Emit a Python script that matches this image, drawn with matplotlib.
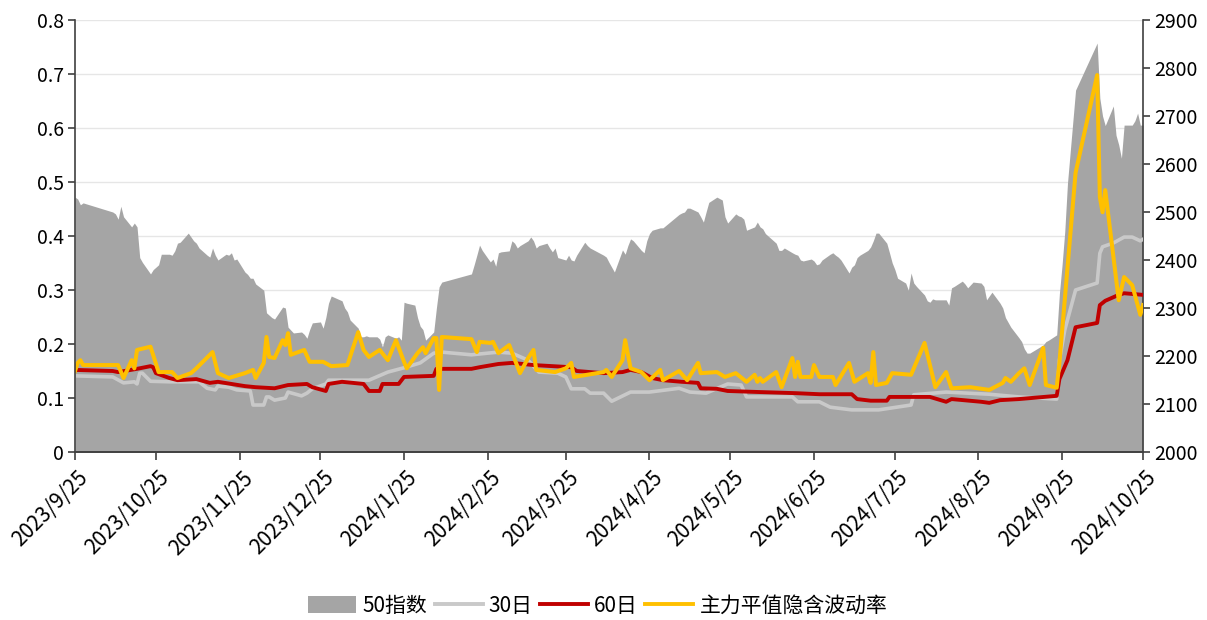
import matplotlib
matplotlib.use('Agg')
import matplotlib.pyplot as plt
import matplotlib.transforms as mtransforms
from matplotlib.patches import Patch
from matplotlib.lines import Line2D
import numpy as np
import pandas as pd

plt.rcParams['font.family'] = ['Noto Sans CJK SC', 'DejaVu Sans']

# 50指数 (right axis)
idx_dates = [
    '2023-09-25', '2023-09-26', '2023-09-27', '2023-09-28', '2023-10-09', '2023-10-10', '2023-10-11',
    '2023-10-12', '2023-10-13', '2023-10-16', '2023-10-17', '2023-10-18', '2023-10-19', '2023-10-20',
    '2023-10-23', '2023-10-24', '2023-10-25', '2023-10-26', '2023-10-27', '2023-10-30', '2023-10-31',
    '2023-11-01', '2023-11-02', '2023-11-03', '2023-11-06', '2023-11-07', '2023-11-08', '2023-11-09',
    '2023-11-10', '2023-11-13', '2023-11-14', '2023-11-15', '2023-11-16', '2023-11-17', '2023-11-20',
    '2023-11-21', '2023-11-22', '2023-11-23', '2023-11-24', '2023-11-27', '2023-11-28', '2023-11-29',
    '2023-11-30', '2023-12-01', '2023-12-04', '2023-12-05', '2023-12-06', '2023-12-07', '2023-12-08',
    '2023-12-11', '2023-12-12', '2023-12-13', '2023-12-14', '2023-12-15', '2023-12-18', '2023-12-19',
    '2023-12-20', '2023-12-21', '2023-12-22', '2023-12-25', '2023-12-26', '2023-12-27', '2023-12-28',
    '2023-12-29', '2024-01-02', '2024-01-03', '2024-01-04', '2024-01-05', '2024-01-08', '2024-01-09',
    '2024-01-10', '2024-01-11', '2024-01-12', '2024-01-15', '2024-01-16', '2024-01-17', '2024-01-18',
    '2024-01-19', '2024-01-22', '2024-01-23', '2024-01-24', '2024-01-25', '2024-01-26', '2024-01-29',
    '2024-01-30', '2024-01-31', '2024-02-01', '2024-02-02', '2024-02-05', '2024-02-06', '2024-02-07',
    '2024-02-08', '2024-02-19', '2024-02-20', '2024-02-21', '2024-02-22', '2024-02-23', '2024-02-26',
    '2024-02-27', '2024-02-28', '2024-02-29', '2024-03-01', '2024-03-04', '2024-03-05', '2024-03-06',
    '2024-03-07', '2024-03-08', '2024-03-11', '2024-03-12', '2024-03-13', '2024-03-14', '2024-03-15',
    '2024-03-18', '2024-03-19', '2024-03-20', '2024-03-21', '2024-03-22', '2024-03-25', '2024-03-26',
    '2024-03-27', '2024-03-28', '2024-03-29', '2024-04-01', '2024-04-02', '2024-04-03', '2024-04-08',
    '2024-04-09', '2024-04-10', '2024-04-11', '2024-04-12', '2024-04-15', '2024-04-16', '2024-04-17',
    '2024-04-18', '2024-04-19', '2024-04-22', '2024-04-23', '2024-04-24', '2024-04-25', '2024-04-26',
    '2024-04-29', '2024-04-30', '2024-05-06', '2024-05-07', '2024-05-08', '2024-05-09', '2024-05-10',
    '2024-05-13', '2024-05-14', '2024-05-15', '2024-05-16', '2024-05-17', '2024-05-20', '2024-05-21',
    '2024-05-22', '2024-05-23', '2024-05-24', '2024-05-27', '2024-05-28', '2024-05-29', '2024-05-30',
    '2024-05-31', '2024-06-03', '2024-06-04', '2024-06-05', '2024-06-06', '2024-06-07', '2024-06-11',
    '2024-06-12', '2024-06-13', '2024-06-14', '2024-06-17', '2024-06-18', '2024-06-19', '2024-06-20',
    '2024-06-21', '2024-06-24', '2024-06-25', '2024-06-26', '2024-06-27', '2024-06-28', '2024-07-01',
    '2024-07-02', '2024-07-03', '2024-07-04', '2024-07-05', '2024-07-08', '2024-07-09', '2024-07-10',
    '2024-07-11', '2024-07-12', '2024-07-15', '2024-07-16', '2024-07-17', '2024-07-18', '2024-07-19',
    '2024-07-22', '2024-07-23', '2024-07-24', '2024-07-25', '2024-07-26', '2024-07-29', '2024-07-30',
    '2024-07-31', '2024-08-01', '2024-08-02', '2024-08-05', '2024-08-06', '2024-08-07', '2024-08-08',
    '2024-08-09', '2024-08-12', '2024-08-13', '2024-08-14', '2024-08-15', '2024-08-16', '2024-08-19',
    '2024-08-20', '2024-08-21', '2024-08-22', '2024-08-23', '2024-08-26', '2024-08-27', '2024-08-28',
    '2024-08-29', '2024-08-30', '2024-09-02', '2024-09-03', '2024-09-04', '2024-09-05', '2024-09-06',
    '2024-09-09', '2024-09-10', '2024-09-11', '2024-09-12', '2024-09-13', '2024-09-18', '2024-09-19',
    '2024-09-20', '2024-09-23', '2024-09-24', '2024-09-25', '2024-09-26', '2024-09-27', '2024-09-30',
    '2024-10-08', '2024-10-09', '2024-10-10', '2024-10-11', '2024-10-14', '2024-10-15', '2024-10-16',
    '2024-10-17', '2024-10-18', '2024-10-21', '2024-10-22', '2024-10-23', '2024-10-24', '2024-10-25',
]
idx_vals = [
    2531, 2527, 2515, 2519, 2500, 2496, 2485,
    2512, 2490, 2469, 2477, 2469, 2405, 2395,
    2371, 2380, 2385, 2390, 2412, 2412, 2410,
    2419, 2435, 2437, 2456, 2448, 2440, 2435,
    2425, 2410, 2406, 2425, 2410, 2400, 2412,
    2410, 2415, 2400, 2402, 2375, 2370, 2362,
    2362, 2350, 2337, 2290, 2285, 2280, 2277,
    2302, 2300, 2260, 2254, 2248, 2250, 2245,
    2237, 2255, 2269, 2271, 2258, 2280, 2310,
    2325, 2315, 2300, 2292, 2275, 2258, 2240,
    2240, 2242, 2240, 2240, 2235, 2219, 2240,
    2244, 2237, 2240, 2233, 2312, 2310, 2306,
    2280, 2262, 2255, 2233, 2250, 2300, 2344,
    2354, 2371, 2390, 2410, 2431, 2420, 2396,
    2402, 2387, 2415, 2417, 2419, 2440, 2435,
    2425, 2430, 2440, 2448, 2440, 2425, 2430,
    2435, 2425, 2417, 2425, 2405, 2400, 2410,
    2400, 2398, 2410, 2437, 2430, 2425, 2410,
    2406, 2395, 2385, 2375, 2421, 2412, 2430,
    2444, 2440, 2420, 2415, 2440, 2455, 2462,
    2467, 2467, 2495, 2498, 2500, 2508, 2508,
    2500, 2490, 2479, 2500, 2520, 2531, 2528,
    2525, 2490, 2477, 2496, 2492, 2490, 2485,
    2462, 2469, 2479, 2469, 2465, 2455, 2435,
    2420, 2420, 2425, 2415, 2412, 2410, 2400,
    2398, 2402, 2398, 2390, 2392, 2400, 2412,
    2415, 2410, 2406, 2400, 2373, 2385, 2390,
    2405, 2410, 2420, 2427, 2440, 2456, 2456,
    2435, 2415, 2394, 2380, 2362, 2352, 2337,
    2373, 2352, 2345, 2327, 2315, 2312, 2319,
    2317, 2317, 2317, 2306, 2342, 2345, 2356,
    2350, 2342, 2348, 2354, 2352, 2345, 2317,
    2325, 2333, 2310, 2300, 2280, 2270, 2260,
    2238, 2230, 2215, 2206, 2206, 2223, 2230,
    2233, 2244, 2330, 2390, 2460, 2560, 2754,
    2852, 2737, 2700, 2680, 2721, 2660, 2640,
    2612, 2681, 2681, 2690, 2706, 2681, 2681,
]

# 30日 (left axis)
hv30_dates = [
    '2023-09-25', '2023-10-09', '2023-10-13', '2023-10-17', '2023-10-18', '2023-10-19', '2023-10-20',
    '2023-10-23', '2023-10-30', '2023-11-10', '2023-11-13', '2023-11-16', '2023-11-17', '2023-11-21',
    '2023-11-24', '2023-11-29', '2023-11-30', '2023-12-04', '2023-12-05', '2023-12-06', '2023-12-08',
    '2023-12-12', '2023-12-13', '2023-12-18', '2023-12-20', '2023-12-22', '2023-12-27', '2023-12-28',
    '2024-01-12', '2024-01-19', '2024-01-25', '2024-01-31', '2024-02-05', '2024-02-08', '2024-02-19',
    '2024-02-29', '2024-03-05', '2024-03-11', '2024-03-15', '2024-03-22', '2024-03-25', '2024-03-27',
    '2024-04-01', '2024-04-03', '2024-04-08', '2024-04-11', '2024-04-18', '2024-04-25', '2024-05-06',
    '2024-05-10', '2024-05-16', '2024-05-24', '2024-05-29', '2024-05-31', '2024-06-17', '2024-06-19',
    '2024-06-27', '2024-07-01', '2024-07-09', '2024-07-19', '2024-07-31', '2024-08-01', '2024-08-13',
    '2024-08-29', '2024-09-09', '2024-09-23', '2024-09-24', '2024-09-26', '2024-09-30', '2024-10-08',
    '2024-10-09', '2024-10-10', '2024-10-14', '2024-10-18', '2024-10-21', '2024-10-24', '2024-10-25',
]
hv30_vals = [
    0.141, 0.139, 0.128, 0.130, 0.126, 0.146, 0.146,
    0.131, 0.130, 0.130, 0.118, 0.115, 0.122, 0.120,
    0.115, 0.113, 0.087, 0.087, 0.102, 0.102, 0.096,
    0.100, 0.111, 0.104, 0.109, 0.117, 0.126, 0.133,
    0.133, 0.148, 0.156, 0.165, 0.183, 0.185, 0.180,
    0.185, 0.183, 0.170, 0.148, 0.146, 0.139, 0.117,
    0.117, 0.109, 0.109, 0.094, 0.111, 0.111, 0.118,
    0.111, 0.109, 0.126, 0.124, 0.102, 0.102, 0.093,
    0.093, 0.083, 0.078, 0.078, 0.087, 0.106, 0.111,
    0.107, 0.102, 0.098, 0.170, 0.226, 0.300, 0.313,
    0.368, 0.380, 0.387, 0.398, 0.398, 0.391, 0.394,
]

# 60日 (left axis)
hv60_dates = [
    '2023-09-25', '2023-10-09', '2023-10-11', '2023-10-18', '2023-10-23', '2023-10-24', '2023-10-25',
    '2023-10-30', '2023-11-02', '2023-11-09', '2023-11-14', '2023-11-17', '2023-11-22', '2023-11-27',
    '2023-12-01', '2023-12-08', '2023-12-13', '2023-12-20', '2023-12-22', '2023-12-27', '2023-12-28',
    '2024-01-02', '2024-01-10', '2024-01-12', '2024-01-16', '2024-01-17', '2024-01-23', '2024-01-25',
    '2024-02-05', '2024-02-06', '2024-02-19', '2024-02-22', '2024-02-29', '2024-03-05', '2024-03-13',
    '2024-03-27', '2024-03-29', '2024-04-08', '2024-04-15', '2024-04-18', '2024-04-22', '2024-04-26',
    '2024-04-30', '2024-05-07', '2024-05-13', '2024-05-14', '2024-05-20', '2024-05-24', '2024-06-05',
    '2024-06-18', '2024-06-27', '2024-07-09', '2024-07-11', '2024-07-16', '2024-07-22', '2024-07-23',
    '2024-08-07', '2024-08-13', '2024-08-15', '2024-08-26', '2024-08-29', '2024-09-02', '2024-09-09',
    '2024-09-23', '2024-09-24', '2024-09-27', '2024-09-30', '2024-10-08', '2024-10-09', '2024-10-11',
    '2024-10-16', '2024-10-18', '2024-10-25',
]
hv60_vals = [
    0.152, 0.150, 0.148, 0.154, 0.159, 0.157, 0.146,
    0.137, 0.133, 0.135, 0.128, 0.130, 0.126, 0.122,
    0.120, 0.118, 0.124, 0.126, 0.120, 0.113, 0.126,
    0.130, 0.126, 0.113, 0.113, 0.126, 0.126, 0.139,
    0.141, 0.154, 0.154, 0.157, 0.163, 0.165, 0.161,
    0.157, 0.150, 0.146, 0.148, 0.152, 0.148, 0.137,
    0.133, 0.130, 0.128, 0.118, 0.117, 0.113, 0.111,
    0.109, 0.107, 0.107, 0.098, 0.095, 0.095, 0.102,
    0.102, 0.093, 0.098, 0.093, 0.091, 0.096, 0.098,
    0.104, 0.135, 0.170, 0.231, 0.239, 0.272, 0.280,
    0.291, 0.294, 0.291,
]

# 主力平值隐含波动率 (left axis)
iv_dates = [
    '2023-09-25', '2023-09-26', '2023-09-27', '2023-09-28', '2023-10-09', '2023-10-11', '2023-10-13',
    '2023-10-16', '2023-10-17', '2023-10-18', '2023-10-23', '2023-10-26', '2023-10-31', '2023-11-02',
    '2023-11-07', '2023-11-09', '2023-11-15', '2023-11-17', '2023-11-21', '2023-11-27', '2023-11-30',
    '2023-12-01', '2023-12-04', '2023-12-05', '2023-12-06', '2023-12-08', '2023-12-11', '2023-12-12',
    '2023-12-13', '2023-12-14', '2023-12-19', '2023-12-21', '2023-12-26', '2023-12-29', '2024-01-04',
    '2024-01-08', '2024-01-10', '2024-01-12', '2024-01-16', '2024-01-19', '2024-01-22', '2024-01-25',
    '2024-01-26', '2024-01-30', '2024-02-01', '2024-02-02', '2024-02-05', '2024-02-06', '2024-02-07',
    '2024-02-08', '2024-02-19', '2024-02-21', '2024-02-22', '2024-02-26', '2024-02-27', '2024-02-29',
    '2024-03-04', '2024-03-08', '2024-03-11', '2024-03-13', '2024-03-14', '2024-03-21', '2024-03-25',
    '2024-03-27', '2024-03-28', '2024-04-08', '2024-04-09', '2024-04-11', '2024-04-15', '2024-04-16',
    '2024-04-18', '2024-04-22', '2024-04-25', '2024-04-29', '2024-04-30', '2024-05-06', '2024-05-09',
    '2024-05-13', '2024-05-14', '2024-05-20', '2024-05-23', '2024-05-27', '2024-05-31', '2024-06-03',
    '2024-06-04', '2024-06-05', '2024-06-06', '2024-06-11', '2024-06-13', '2024-06-17', '2024-06-18',
    '2024-06-19', '2024-06-20', '2024-06-24', '2024-06-25', '2024-06-27', '2024-07-02', '2024-07-03',
    '2024-07-08', '2024-07-10', '2024-07-15', '2024-07-16', '2024-07-17', '2024-07-18', '2024-07-22',
    '2024-07-24', '2024-07-31', '2024-08-05', '2024-08-09', '2024-08-13', '2024-08-15', '2024-08-22',
    '2024-08-29', '2024-09-03', '2024-09-04', '2024-09-06', '2024-09-09', '2024-09-11', '2024-09-13',
    '2024-09-18', '2024-09-19', '2024-09-23', '2024-09-24', '2024-09-30', '2024-10-08', '2024-10-09',
    '2024-10-10', '2024-10-11', '2024-10-16', '2024-10-18', '2024-10-21', '2024-10-24', '2024-10-25',
]
iv_vals = [
    0.150, 0.165, 0.170, 0.161, 0.161, 0.161, 0.137,
    0.170, 0.155, 0.189, 0.195, 0.148, 0.148, 0.137,
    0.146, 0.155, 0.185, 0.146, 0.137, 0.146, 0.152,
    0.137, 0.165, 0.213, 0.176, 0.174, 0.207, 0.198,
    0.220, 0.180, 0.189, 0.167, 0.167, 0.159, 0.161,
    0.222, 0.189, 0.176, 0.189, 0.170, 0.207, 0.167,
    0.155, 0.183, 0.194, 0.183, 0.211, 0.211, 0.115,
    0.213, 0.209, 0.185, 0.204, 0.202, 0.204, 0.183,
    0.198, 0.146, 0.174, 0.189, 0.152, 0.148, 0.155,
    0.165, 0.139, 0.148, 0.152, 0.139, 0.170, 0.207,
    0.155, 0.148, 0.133, 0.152, 0.133, 0.150, 0.133,
    0.165, 0.146, 0.148, 0.139, 0.146, 0.130, 0.143,
    0.130, 0.137, 0.130, 0.148, 0.120, 0.174, 0.139,
    0.167, 0.139, 0.139, 0.161, 0.139, 0.139, 0.124,
    0.165, 0.130, 0.146, 0.128, 0.185, 0.124, 0.128,
    0.146, 0.143, 0.202, 0.120, 0.148, 0.118, 0.120,
    0.115, 0.128, 0.137, 0.130, 0.146, 0.155, 0.124,
    0.193, 0.124, 0.119, 0.165, 0.517, 0.698, 0.472,
    0.444, 0.485, 0.281, 0.324, 0.309, 0.254, 0.272,
]

tick_dates = ['2023-09-25', '2023-10-25', '2023-11-25', '2023-12-25', '2024-01-25', '2024-02-25',
              '2024-03-25', '2024-04-25', '2024-05-25', '2024-06-25', '2024-07-25', '2024-08-25',
              '2024-09-25', '2024-10-25']
tick_labels = ['2023/9/25', '2023/10/25', '2023/11/25', '2023/12/25', '2024/1/25', '2024/2/25',
               '2024/3/25', '2024/4/25', '2024/5/25', '2024/6/25', '2024/7/25', '2024/8/25',
               '2024/9/25', '2024/10/25']

fig = plt.figure(figsize=(12.07, 6.2), dpi=100)
ax1 = fig.add_axes([75 / 1207, 1 - 452 / 620, 1068 / 1207, 432 / 620])
ax2 = ax1.twinx()
ax1.set_zorder(ax2.get_zorder() + 1)
ax1.patch.set_visible(False)

# area (index) on the right axis
ax2.fill_between(pd.to_datetime(idx_dates), idx_vals, 2000, color='#A5A5A5', lw=0, zorder=2)
ax2.set_ylim(2000, 2900)
ax2.set_yticks(np.arange(2000, 2901, 100))

# horizontal grid at the left ticks, drawn behind the area
ax1.set_ylim(0, 0.8)
left_ticks = np.arange(0, 0.81, 0.1)
for g in np.interp(left_ticks[1:], ax1.get_ylim(), ax2.get_ylim()):
    ax2.axhline(g, color='#E6E6E6', lw=1, zorder=1)

ax1.plot(pd.to_datetime(hv30_dates), hv30_vals, color='#C9C9C9', lw=2.6, solid_joinstyle='round')
ax1.plot(pd.to_datetime(hv60_dates), hv60_vals, color='#C00000', lw=2.8, solid_joinstyle='round')
ax1.plot(pd.to_datetime(iv_dates), iv_vals, color='#FFC000', lw=2.9, solid_joinstyle='round')

ax1.set_yticks(left_ticks)
ax1.set_yticklabels([f'{v:g}' for v in np.round(left_ticks, 1)])
ax1.set_xlim(pd.Timestamp('2023-09-25'), pd.Timestamp('2024-10-25'))
ax1.set_xticks(pd.to_datetime(tick_dates))
ax1.set_xticklabels(tick_labels, rotation=45, ha='right', va='center', rotation_mode='anchor')

for ax in (ax1, ax2):
    ax.spines['top'].set_visible(False)
    for s in ('left', 'right', 'bottom'):
        ax.spines[s].set_color('#404040')
        ax.spines[s].set_linewidth(1.2)
ax1.spines['right'].set_visible(False)
ax2.spines['left'].set_visible(False)

ax1.tick_params(axis='y', direction='out', length=5, width=1.2, labelsize=14, color='#404040', pad=3)
ax2.tick_params(axis='y', direction='out', length=5, width=1.2, labelsize=14, color='#404040', pad=3)
ax1.tick_params(axis='x', direction='out', length=6, width=1.2, labelsize=15, color='#404040', pad=6)

# nudge the rotated date labels right and down (after tick_params, which resets transforms)
shift = mtransforms.ScaledTranslation(10 / 100, -6 / 100, fig.dpi_scale_trans)
for lab in ax1.xaxis.get_majorticklabels():
    lab.set_transform(lab.get_transform() + shift)

handles = [Patch(facecolor='#A5A5A5', edgecolor='none'),
           Line2D([], [], color='#C9C9C9', lw=2.8),
           Line2D([], [], color='#C00000', lw=2.8),
           Line2D([], [], color='#FFC000', lw=2.8)]
labels = ['50指数', '30日', '60日', '主力平值隐含波动率']
fig.legend(handles, labels, loc='center', bbox_to_anchor=(598 / 1207, 1 - 606 / 620), ncol=4,
           frameon=False, fontsize=15, handlelength=2.3, handleheight=0.9,
           handletextpad=0.3, columnspacing=0.35)

fig.savefig('out.png', dpi=100)
